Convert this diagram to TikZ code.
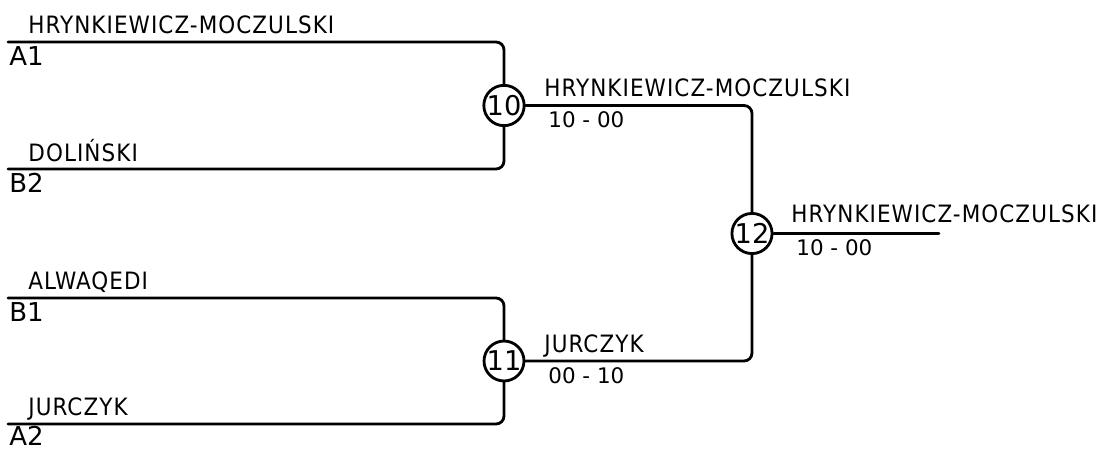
\documentclass[tikz,border=0pt]{standalone}
\usepackage{fontspec}
\setmainfont{DejaVu Sans}
\newfontfamily\namefont[LetterSpace=4.5]{DejaVu Sans Condensed}

\begin{document}
\begin{tikzpicture}[x=0.02cm, y=-0.02cm, line width=1.6pt, line join=round, line cap=round]
				\tikzset{
						team/.style={font=\namefont\fontsize{13.6}{15}\selectfont, inner sep=0, anchor=base west},
						seed/.style={font=\fontsize{14.8}{16}\selectfont, inner sep=0, anchor=base west},
						score/.style={font=\fontsize{12.2}{14}\selectfont, inner sep=0, anchor=base west},
						match/.style={circle, draw, fill=white, inner sep=0, minimum size=0.76cm, font=\fontsize{15.5}{17}\selectfont},
						bracket/.style={rounded corners=0.16cm}
				}
				\useasboundingbox (0,0) rectangle (1101,450);
				% first round
				\coordinate (a1) at (8,42);
				\coordinate (b2) at (8,169);
				\coordinate (b1) at (8,298);
				\coordinate (a2) at (8,424);
				\node[match] (m10) at (504,105.5) {10};
				\node[match] (m11) at (504,361) {11};
				\node[match] (m12) at (752,233.5) {12};
				\coordinate (win) at (939,233.5);
				\draw[bracket] (a1) -| (m10) (b2) -| (m10);
				\draw[bracket] (b1) -| (m11) (a2) -| (m11);
				\draw[bracket] (m10) -| (m12) (m11) -| (m12);
				\draw (m12) -- (win);
				\node[team] (t-a1) at (27,33) {HRYNKIEWICZ-MOCZULSKI};
				\node[team] (t-b2) at (27,161) {DOLIŃSKI};
				\node[team] (t-b1) at (27,289) {ALWAQEDI};
				\node[team] (t-a2) at (27,415) {JURCZYK};
				\node[seed] (s-a1) at (8,65) {A1};
				\node[seed] (s-b2) at (8,192) {B2};
				\node[seed] (s-b1) at (8,321) {B1};
				\node[seed] (s-a2) at (8,445) {A2};
				% second round
				\node[team] (t-m10) at (543,96) {HRYNKIEWICZ-MOCZULSKI};
				\node[score] (r-m10) at (547,127) {10 - 00};
				\node[team] (t-m11) at (543,352) {JURCZYK};
				\node[score] (r-m11) at (547,383) {00 - 10};
				% final
				\node[team] (t-m12) at (790,222) {HRYNKIEWICZ-MOCZULSKI};
				\node[score] (r-m12) at (795,255) {10 - 00};
			\end{tikzpicture}
\end{document}
